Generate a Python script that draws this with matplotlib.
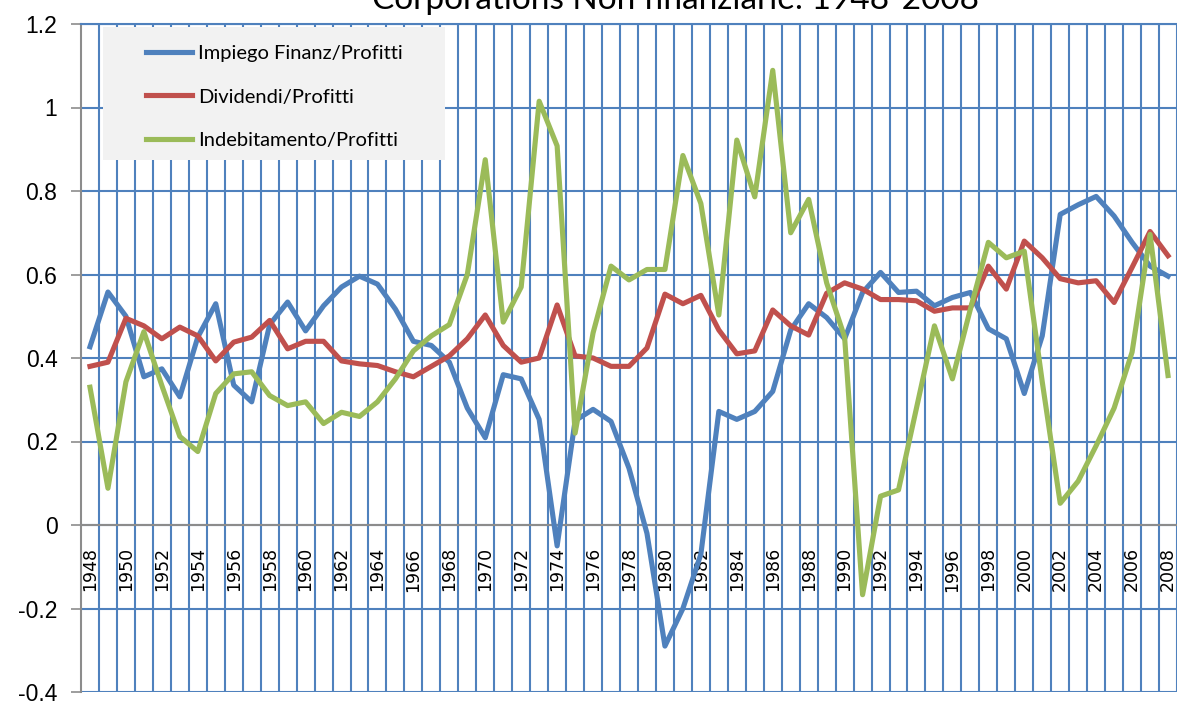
import numpy as np
import matplotlib.pyplot as plt
from matplotlib.patches import Rectangle

# dati (1948-2008)
anni = list(range(1948, 2009))

impiego = [0.427, 0.558, 0.50, 0.355, 0.374, 0.307, 0.45, 0.53, 0.335, 0.295,
           0.48, 0.534, 0.465, 0.525, 0.57, 0.596, 0.577, 0.517, 0.44, 0.43,
           0.39, 0.28, 0.209, 0.36, 0.35, 0.253, -0.05, 0.25, 0.277, 0.248,
           0.136, -0.02, -0.29, -0.2, -0.07, 0.272, 0.253, 0.272, 0.32, 0.467,
           0.53, 0.497, 0.446, 0.557, 0.605, 0.557, 0.56, 0.525, 0.545, 0.557,
           0.47, 0.446, 0.315, 0.453, 0.744, 0.767, 0.787, 0.74, 0.677, 0.62,
           0.596]

dividendi = [0.38, 0.39, 0.495, 0.477, 0.446, 0.474, 0.453, 0.393, 0.438, 0.45,
             0.49, 0.422, 0.44, 0.44, 0.393, 0.386, 0.382, 0.367, 0.355, 0.38,
             0.405, 0.446, 0.503, 0.43, 0.39, 0.40, 0.527, 0.405, 0.40, 0.38,
             0.38, 0.424, 0.553, 0.53, 0.55, 0.467, 0.41, 0.417, 0.515, 0.477,
             0.455, 0.555, 0.58, 0.565, 0.54, 0.54, 0.537, 0.512, 0.52, 0.52,
             0.62, 0.565, 0.68, 0.64, 0.59, 0.58, 0.585, 0.533, 0.617, 0.703,
             0.645]

indebitamento = [0.33, 0.088, 0.343, 0.463, 0.334, 0.212, 0.176, 0.315, 0.362, 0.367,
                 0.31, 0.286, 0.295, 0.243, 0.27, 0.26, 0.295, 0.35, 0.417, 0.453,
                 0.48, 0.60, 0.875, 0.486, 0.57, 1.015, 0.908, 0.22, 0.46, 0.62,
                 0.587, 0.612, 0.612, 0.885, 0.77, 0.503, 0.922, 0.786, 1.089, 0.70,
                 0.78, 0.58, 0.45, -0.167, 0.069, 0.084, 0.28, 0.477, 0.35, 0.517,
                 0.677, 0.64, 0.656, 0.343, 0.052, 0.105, 0.19, 0.28, 0.414, 0.696,
                 0.358]

etichette_y = ['-0.4', '-0.2', '0', '0.2', '0.4', '0.6', '0.8', '1', '1.2']
valori_y = [-0.4, -0.2, 0, 0.2, 0.4, 0.6, 0.8, 1, 1.2]

blu = '#4F81BD'
rosso = '#C0504D'
verde = '#9BBB59'
grigio = '#8C8C8C'

fig = plt.figure(figsize=(11.77, 7.04), dpi=100)
ax = fig.add_axes([81 / 1177, 1 - 692 / 704, 1 - 81 / 1177, (692 - 24) / 704])

x = np.arange(len(anni))
ax.plot(x, impiego, color=blu, lw=3.7, label='Impiego Finanz/Profitti', zorder=4)
ax.plot(x, dividendi, color=rosso, lw=3.7, label='Dividendi/Profitti', zorder=4)
ax.plot(x, indebitamento, color=verde, lw=3.7, label='Indebitamento/Profitti', zorder=4)

ax.set_xlim(-0.5, len(anni) - 0.5)
ax.set_ylim(-0.4, 1.2)

# griglia: linee verticali tra le categorie
ax.set_xticks(np.arange(0.5, len(anni), 1), minor=True)
ax.grid(which='minor', axis='x', color=blu, lw=1.5)
ax.tick_params(axis='x', which='both', length=0, pad=16, labelrotation=90, labelsize=12.5)
ax.set_xticks(x[::2])
ax.set_xticklabels([str(a) for a in anni[::2]])
for t in ax.get_xticklabels():
    t.set_rotation(90)
    t.set_family('Liberation Sans')

ax.set_yticks(valori_y)
ax.set_yticklabels(etichette_y)
ax.tick_params(axis='y', length=7, width=1.2, color=grigio, pad=10, labelsize=16.5)
for t in ax.get_yticklabels():
    t.set_family('Liberation Sans')
ax.grid(which='major', axis='y', color=blu, lw=1.5)
ax.set_axisbelow(True)

ax.spines['bottom'].set_position(('data', 0))
ax.spines['bottom'].set_color(grigio)
ax.spines['bottom'].set_linewidth(1.5)
ax.spines['left'].set_color(grigio)
ax.spines['left'].set_linewidth(1.5)
ax.spines['right'].set_visible(False)
ax.spines['top'].set_color(blu)
ax.spines['top'].set_linewidth(1.5)

# riquadro della legenda
fig.patches.append(Rectangle((103 / 1177, 1 - 160 / 704), (445 - 103) / 1177, (160 - 27) / 704,
                             transform=fig.transFigure, facecolor='#F2F2F2',
                             edgecolor='none', zorder=5))
leg = fig.legend(loc='upper left', bbox_to_anchor=(128 / 1177, 1 - 27 / 704),
                 frameon=False, prop={'family': 'Lato', 'size': 14.5},
                 handlelength=2.3, handletextpad=0.3, labelspacing=1.3)
leg.set_zorder(6)

fig.text(675 / 1177, 1 - 9 / 704, 'Corporations Non finanziarie: 1948-2008',
         ha='center', va='baseline', fontsize=24, family='Lato')

fig.savefig('out.png', dpi=100)
